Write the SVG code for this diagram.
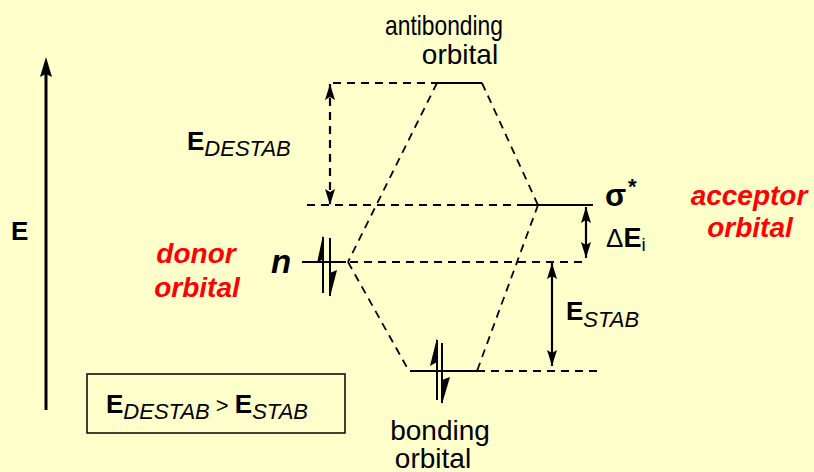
<svg xmlns="http://www.w3.org/2000/svg" width="814" height="472" viewBox="0 0 814 472">
<style>
.t{font-family:"Liberation Sans",Arial,sans-serif;fill:#000}
.lbl{font-size:28px}
.b{font-weight:bold}
.i{font-style:italic}
.red{fill:#FF0000;font-weight:bold;font-style:italic;font-size:28px}
.ln{stroke:#000;stroke-width:2;fill:none}
.dash{stroke:#000;stroke-width:1.8;fill:none;stroke-dasharray:8 6}
.arr{stroke:#000;stroke-width:2.2;fill:none;marker-start:url(#ah);marker-end:url(#ah)}
</style>
<defs>
<marker id="ah" viewBox="0 0 16 10" markerWidth="16" markerHeight="10" refX="16" refY="5" orient="auto-start-reverse" markerUnits="userSpaceOnUse">
<path d="M0,0 L16,5 L0,10 L3,5 z" fill="#000"/>
</marker>
</defs>
<rect width="814" height="472" fill="#FFFFCC"/>

<g id="energy-axis">
<line x1="46" y1="410" x2="46" y2="74" stroke="#000" stroke-width="3"/>
<polygon points="46,57 40,77 46,74 52,77" fill="#000"/>
<text class="t b" x="11" y="240" font-size="26">E</text>
</g>

<g id="connectors">
<line class="dash" x1="333" y1="83" x2="437" y2="83"/>
<line class="dash" x1="307" y1="205" x2="518" y2="205"/>
<line class="dash" x1="350" y1="262" x2="587" y2="262"/>
<line class="dash" x1="477" y1="371" x2="598" y2="371"/>
<line class="dash" x1="437" y1="83" x2="348" y2="262"/>
<line class="dash" x1="482" y1="83" x2="538" y2="205"/>
<line class="dash" x1="348" y1="262" x2="409" y2="371"/>
<line class="dash" x1="538" y1="205" x2="477" y2="371"/>
<line class="arr" x1="330" y1="84" x2="330" y2="205" style="stroke-dasharray:8 6"/>
<line class="arr" x1="586" y1="207" x2="586" y2="258"/>
<line class="arr" x1="552" y1="263" x2="552" y2="366"/>
</g>

<g id="antibonding-orbital">
<line class="ln" x1="437" y1="83" x2="482" y2="83"/>
<text class="t" x="385" y="35" font-size="28" textLength="118" lengthAdjust="spacingAndGlyphs">antibonding</text>
<text class="t lbl" x="460" y="64" text-anchor="middle">orbital</text>
</g>

<g id="sigma-star">
<line class="ln" x1="518" y1="205" x2="593" y2="205"/>
<text class="t b" x="605" y="206" font-size="31">σ</text>
<text class="t b" x="628" y="194" font-size="22">*</text>
</g>

<g id="acceptor-label">
<text class="t red" x="749" y="205" text-anchor="middle">acceptor</text>
<text class="t red" x="750" y="237" text-anchor="middle">orbital</text>
</g>

<g id="n-orbital">
<line class="ln" x1="302" y1="262" x2="346" y2="262"/>
<text class="t b i" x="271" y="273" font-size="33">n</text>
<line class="ln" x1="323" y1="237" x2="323" y2="293"/>
<polygon points="323,235 317,263 323,259" fill="#000"/>
<line class="ln" x1="330" y1="238" x2="330" y2="296"/>
<polygon points="330,297 337,270 330,273" fill="#000"/>
</g>

<g id="donor-label">
<text class="t red" x="196" y="263" text-anchor="middle">donor</text>
<text class="t red" x="197" y="297" text-anchor="middle">orbital</text>
</g>

<g id="bonding-orbital">
<line class="ln" x1="410" y1="371" x2="477" y2="371"/>
<line class="ln" x1="437" y1="340" x2="437" y2="400"/>
<polygon points="437,338 430,366 437,362" fill="#000"/>
<line class="ln" x1="442" y1="343" x2="442" y2="403"/>
<polygon points="442,404 450,377 442,380" fill="#000"/>
<text class="t lbl" x="440" y="440" text-anchor="middle">bonding</text>
<text class="t lbl" x="433" y="468" text-anchor="middle">orbital</text>
</g>

<g id="e-destab-label">
<text class="t" x="187" y="150"><tspan class="b" font-size="26">E</tspan><tspan class="i" font-size="22" dy="6">DESTAB</tspan></text>
</g>

<g id="delta-e-label">
<text class="t" x="606" y="247"><tspan font-size="26">Δ</tspan><tspan class="b" font-size="27">E</tspan><tspan font-size="19" dy="4">i</tspan></text>
</g>

<g id="e-stab-label">
<text class="t" x="566" y="320"><tspan class="b" font-size="26">E</tspan><tspan class="i" font-size="22" dy="7">STAB</tspan></text>
</g>

<g id="comparison-box">
<rect x="87" y="374" width="258" height="59" fill="none" stroke="#000" stroke-width="1.5"/>
<text class="t" x="106" y="413"><tspan class="b" font-size="26">E</tspan><tspan class="i" font-size="22" dy="6">DESTAB</tspan><tspan font-size="22" dy="-6"> &gt; </tspan><tspan class="b" font-size="26">E</tspan><tspan class="i" font-size="22" dy="6">STAB</tspan></text>
</g>
</svg>
